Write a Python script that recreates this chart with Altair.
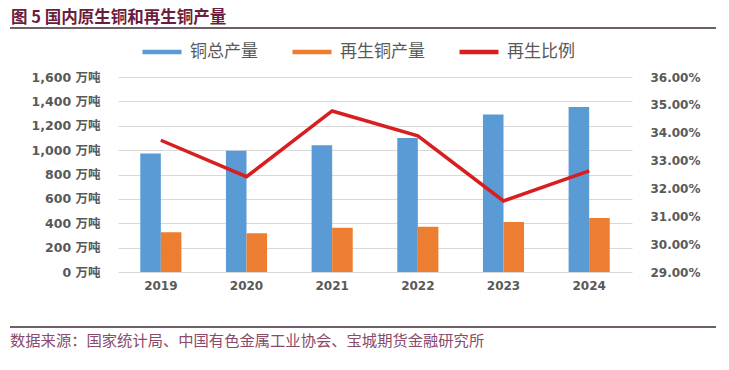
import altair as alt
import pandas as pd

years = ["2019", "2020", "2021", "2022", "2023", "2024"]
total_output = [972, 995, 1040, 1100, 1293, 1353]      # 万吨
recycled_output = [326, 318, 364, 372, 411, 443]        # 万吨
recycled_ratio = [0.3373, 0.3242, 0.3478, 0.3389, 0.3155, 0.3263]

series_names = ["铜总产量", "再生铜产量", "再生比例"]
series_colors = ["#5b9bd5", "#ed7d31", "#d81e1e"]

title_text = "图 5  国内原生铜和再生铜产量"
source_text = "数据来源：国家统计局、中国有色金属工业协会、宝城期货金融研究所"

FONT = "DejaVu Sans, Noto Sans CJK SC"
CJK = "Noto Sans CJK SC"

bars_df = pd.DataFrame({
    "year": years * 2,
    "series": [series_names[0]] * len(years) + [series_names[1]] * len(years),
    "value": total_output + recycled_output,
})
line_df = pd.DataFrame({"year": years, "ratio": recycled_ratio,
                        "series": [series_names[2]] * len(years)})

x_enc = alt.X("year:O", title=None,
              scale=alt.Scale(paddingInner=0.52, paddingOuter=0.26),
              axis=alt.Axis(labelAngle=0, labelFont=FONT, labelFontSize=12,
                            labelFontWeight="bold", labelColor="#595959",
                            labelPadding=8, ticks=False, domain=False))

bars = alt.Chart(bars_df).mark_bar().encode(
    x=x_enc,
    xOffset=alt.XOffset("series:N", sort=series_names[:2],
                        scale=alt.Scale(domain=series_names[:2], paddingInner=0)),
    y=alt.Y("value:Q", title=None,
            scale=alt.Scale(domain=[0, 1600], nice=False),
            axis=alt.Axis(values=list(range(0, 1601, 200)),
                          labelExpr="format(datum.value, ',') + ' 万吨'",
                          labelFont=FONT, labelFontSize=12.5, labelFontWeight="bold",
                          labelColor="#595959", labelPadding=18,
                          ticks=False, domain=False,
                          grid=True, gridColor="#d9d9d9", gridWidth=1)),
    fill=alt.Fill("series:N", legend=None,
                  scale=alt.Scale(domain=series_names[:2], range=series_colors[:2])),
)

line = alt.Chart(line_df).mark_line(strokeWidth=3.5).encode(
    x=alt.X("year:O"),
    y=alt.Y("ratio:Q", title=None,
            scale=alt.Scale(domain=[0.29, 0.36], nice=False, zero=False),
            axis=alt.Axis(orient="right", values=[0.29, 0.30, 0.31, 0.32, 0.33, 0.34, 0.35, 0.36],
                          format=".2%", labelFont=FONT, labelFontSize=12,
                          labelFontWeight="bold", labelColor="#595959",
                          labelPadding=18, ticks=False, domain=False, grid=False)),
    stroke=alt.Stroke("series:N",
                      scale=alt.Scale(domain=series_names, range=series_colors),
                      legend=alt.Legend(title=None, orient="none", direction="horizontal",
                                        legendX=22, legendY=-47,
                                        symbolType="stroke", symbolSize=1521,
                                        symbolStrokeWidth=4.5,
                                        labelFont=CJK, labelFontSize=17,
                                        labelColor="#595959", labelOffset=6,
                                        columnPadding=25)),
)

title = alt.Chart(pd.DataFrame({"t": [title_text]})).mark_text(
    align="left", baseline="middle", font=CJK, fontSize=16.5, fontWeight="bold",
    color="#6b1d3f").encode(text="t:N", x=alt.value(-107), y=alt.value(-59))

top_rule = alt.Chart(pd.DataFrame({"a": [0]})).mark_rule(
    color="#3d2b35", strokeWidth=1.5).encode(
    x=alt.value(-108), x2=alt.value(598), y=alt.value(-49))

bottom_rule = alt.Chart(pd.DataFrame({"a": [0]})).mark_rule(
    color="#3d2b35", strokeWidth=1.5).encode(
    x=alt.value(-108), x2=alt.value(598), y=alt.value(250))

source = alt.Chart(pd.DataFrame({"t": [source_text]})).mark_text(
    align="left", baseline="middle", font=CJK, fontSize=15.3,
    color="#8a4a6a").encode(text="t:N", x=alt.value(-108), y=alt.value(264))

chart = alt.layer(bars, line, title, top_rule, bottom_rule, source).resolve_scale(
    y="independent"
).properties(
    width=514, height=195,
    padding={"left": 110, "top": 69, "right": 89, "bottom": 86},
    autosize=alt.AutoSizeParams(type="none"),
).configure_view(stroke=None)

chart.save("out.html", embed_options={"renderer": "svg", "actions": False})
